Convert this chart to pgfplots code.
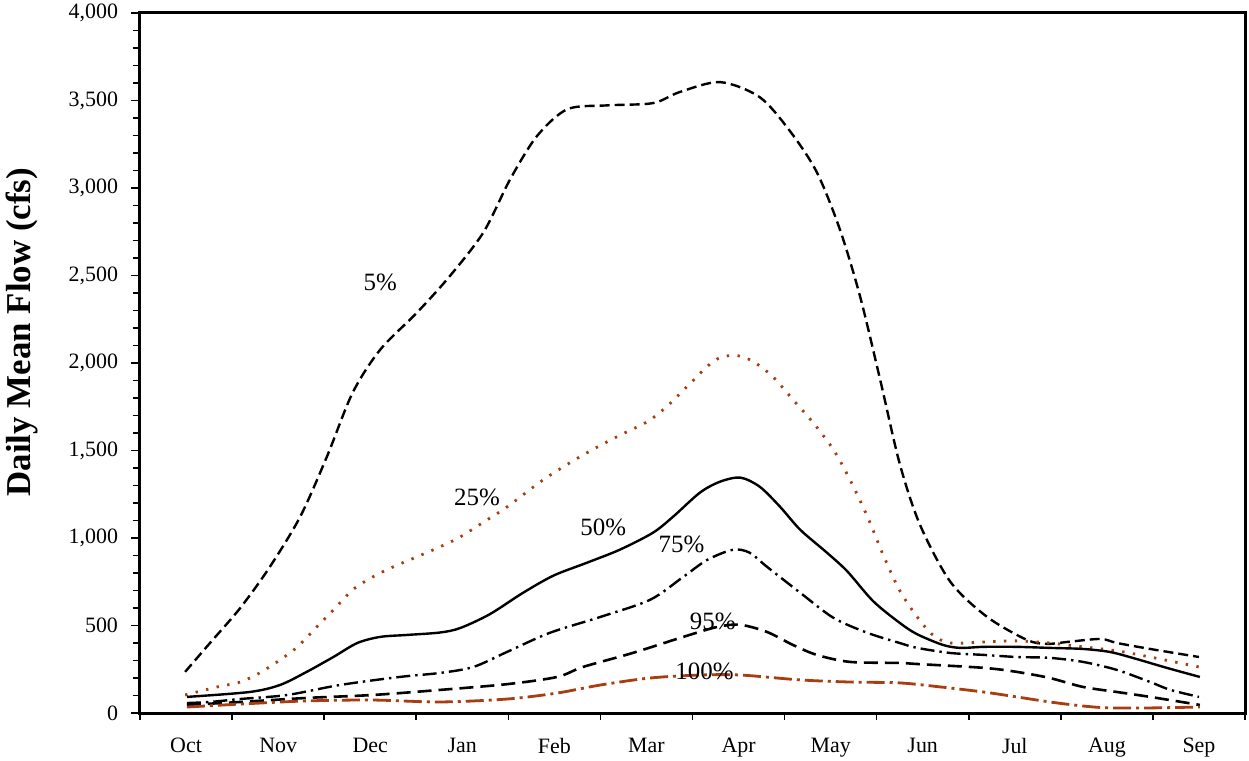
\documentclass[border=0pt]{standalone}
\usepackage{fontspec}
\setmainfont{Liberation Serif}
\usepackage{pgfplots}
\pgfplotsset{compat=1.18}
\definecolor{rust}{RGB}{168,62,16}
\begin{document}
\begin{tikzpicture}
\begin{axis}[
  scale only axis, width=552.5bp, height=350bp,
  at={(0,0)}, anchor=south west,
  xmin=0, xmax=12, ymin=0, ymax=4000,
  xtick={0.5,1.5,...,11.5},
  xticklabels={Oct,Nov,Dec,Jan,Feb,Mar,Apr,May,Jun,Jul,Aug,Sep},
  minor xtick={0,1,...,12},
  ytick={0,500,...,4000},
  minor y tick num=4,
  tick align=outside, tick pos=left,
  major tick length=4.5bp, minor tick length=3.5bp,
  major x tick style={draw=none},
  every tick/.style={black, line width=0.8bp},
  every minor tick/.style={black, line width=0.8bp},
  axis line style={line width=1.5bp},
  /pgf/number format/assume math mode=true,
  /pgf/number format/1000 sep={,},
  ticklabel style={font=\fontsize{11}{13}\selectfont},
  xticklabel style={yshift=-4.5bp},
  yticklabel style={xshift=-3bp},
  ylabel={Daily Mean Flow (cfs)},
  ylabel style={at={(axis description cs:-0.107,0.544)}, anchor=center, font=\fontsize{17.5}{20}\bfseries},
  clip=false,
]
% 5%
\addplot[black, line width=1.2bp, dash pattern=on 5bp off 2.5bp, smooth] coordinates {
(0.49,235) (0.76,400) (1.09,601) (1.41,835) (1.74,1122) (2.03,1465) (2.31,1831) (2.61,2077)
(3.01,2289) (3.37,2500) (3.73,2747) (4.02,3050) (4.31,3296) (4.64,3450) (5.07,3472) (5.57,3485)
(5.86,3548) (6.30,3605) (6.73,3519) (7.06,3324) (7.35,3090) (7.60,2764) (7.82,2380) (8.04,1900)
(8.25,1425) (8.47,1076) (8.80,750) (9.20,549) (9.63,418) (9.85,395) (10.07,406) (10.43,423)
(10.61,400) (10.97,366) (11.50,320)};
% 25%
\addplot[rust, line width=1.4bp, dash pattern=on 1.2bp off 4.2bp, smooth] coordinates {
(0.49,103) (0.84,149) (1.09,177) (1.30,229) (1.52,303) (1.71,378) (1.92,492) (2.10,589)
(2.31,704) (2.53,778) (2.75,835) (3.01,893) (3.26,950) (3.48,1007) (3.77,1104) (3.99,1179)
(4.38,1333) (4.78,1465) (5.18,1579) (5.51,1665) (5.72,1751) (5.94,1865) (6.16,1980) (6.30,2031)
(6.48,2043) (6.66,2008) (6.87,1923) (7.09,1791) (7.31,1659) (7.53,1505) (7.71,1333) (7.90,1122)
(8.07,904) (8.25,700) (8.44,549) (8.61,446) (8.80,400) (9.16,406) (9.52,412) (9.88,400)
(10.24,378) (10.61,355) (10.97,320) (11.50,263)};
% 50%
\addplot[black, line width=1.2bp, smooth] coordinates {
(0.51,92) (1.19,120) (1.52,160) (1.81,235) (2.10,320) (2.36,400) (2.61,435) (2.90,446)
(3.26,460) (3.48,486) (3.80,565) (4.16,687) (4.49,785) (4.85,858) (5.21,933) (5.57,1030)
(5.79,1122) (6.08,1259) (6.30,1322) (6.52,1345) (6.73,1293) (6.95,1179) (7.17,1047) (7.46,916)
(7.68,810) (7.96,640) (8.25,515) (8.44,450) (8.72,389) (8.91,372) (9.16,378) (9.52,378)
(9.88,372) (10.24,366) (10.53,349) (10.78,315) (11.15,258) (11.51,206)};
% 75%
\addplot[black, line width=1.2bp, dash pattern=on 7bp off 2.5bp on 1.2bp off 2.5bp, smooth] coordinates {
(0.51,57) (0.76,63) (1.09,80) (1.60,103) (2.17,160) (2.82,206) (3.26,229) (3.62,263)
(3.99,350) (4.45,458) (5.00,549) (5.54,647) (5.90,778) (6.16,875) (6.44,933) (6.62,916)
(6.81,835) (7.17,687) (7.53,544) (7.90,458) (8.25,400) (8.44,372) (8.80,343) (9.16,332)
(9.52,320) (9.88,315) (10.24,292) (10.61,246) (10.97,177) (11.19,132) (11.50,92)};
% 95%
\addplot[black, line width=1.3bp, dash pattern=on 7bp off 3.5bp, smooth] coordinates {
(0.51,46) (1.09,63) (1.81,86) (2.53,103) (3.26,132) (3.99,165) (4.53,206) (4.81,263)
(5.35,343) (5.90,435) (6.27,492) (6.52,504) (6.81,463) (7.09,389) (7.35,332) (7.71,292)
(8.25,286) (8.44,280) (9.16,258) (9.52,235) (9.88,200) (10.24,149) (10.61,120) (10.97,92)
(11.51,46)};
% 100%
\addplot[rust, line width=1.4bp, dash pattern=on 9bp off 2.5bp on 1.5bp off 2.5bp, smooth] coordinates {
(0.51,34) (1.09,51) (1.81,69) (2.53,74) (3.26,63) (3.99,80) (4.53,114) (5.00,160)
(5.54,200) (6.08,217) (6.52,217) (7.17,189) (7.71,177) (8.25,172) (8.69,149) (9.16,120)
(9.52,92) (9.88,63) (10.24,40) (10.53,29) (10.97,29) (11.51,34)};
\begin{scope}[every node/.style={font=\fontsize{12.5}{15}\selectfont, inner sep=0pt}]
\node at (axis cs:2.61,2460) {5\%};
\node at (axis cs:3.66,1230) {25\%};
\node at (axis cs:5.03,1059) {50\%};
\node at (axis cs:5.88,961) {75\%};
\node at (axis cs:6.22,521) {95\%};
\node at (axis cs:6.13,235) {100\%};
\end{scope}
\end{axis}
\pgfresetboundingbox
\path[use as bounding box] (-70bp,-24bp) rectangle (554.5bp,356.5bp);
\end{tikzpicture}
\end{document}
